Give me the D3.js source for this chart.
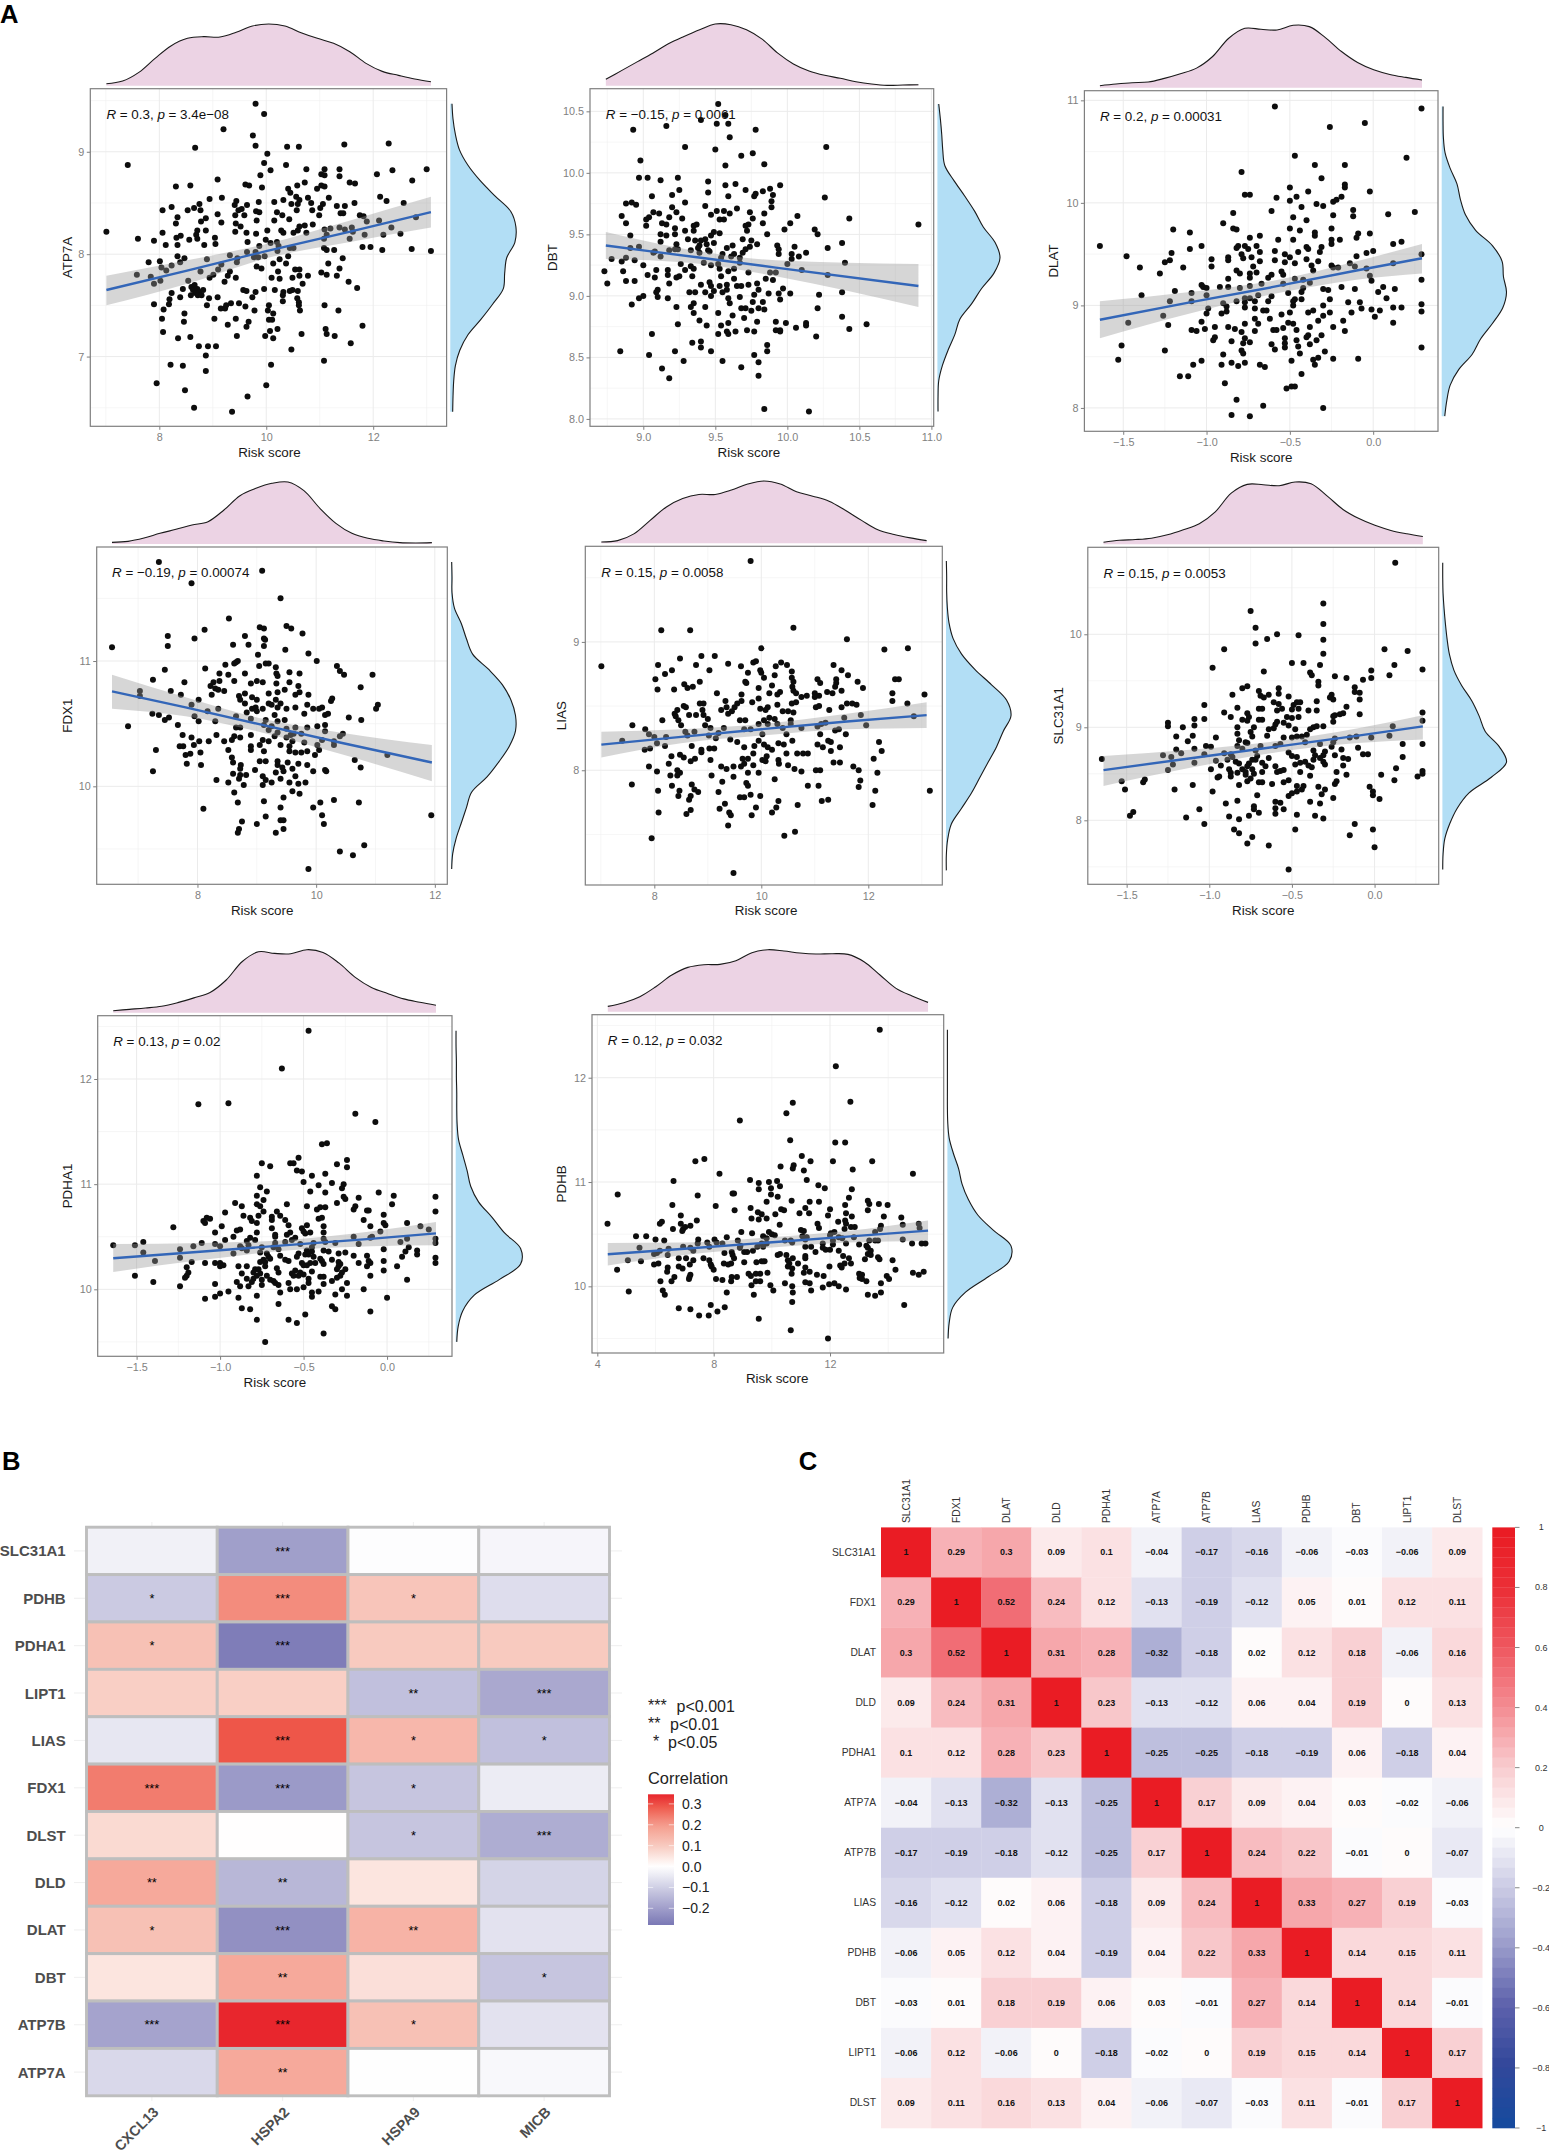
<!DOCTYPE html>
<html>
<head>
<meta charset="utf-8">
<script src="https://cdn.jsdelivr.net/npm/d3@7"></script>
<style>
body { margin: 0; background: #fff; }
text { font-family: "Liberation Sans", Arial, sans-serif; }
</style>
</head>
<body>
<div id="chart"></div>
<script>
// panel A, [risk score, expression]
var atp7aPts = [[9.8,9.47],[9.96,9.37],[9.2,9.22],[9.75,9.16],[8.67,9.04],[9.8,9.06],[10.39,9.05],[10.61,9.05],[11.46,9.07],[12.29,9.08],[7.41,8.87],[10.02,8.98],[9.96,8.89],[10.37,8.87],[10.08,8.82],[10.75,8.83],[11.09,8.83],[11.37,8.83],[12.36,8.82],[13,8.83],[9.89,8.77],[11.03,8.78],[11.09,8.77],[11.37,8.76],[12.07,8.78],[9.09,8.73],[12.73,8.72],[8.31,8.66],[8.58,8.67],[9.61,8.68],[9.68,8.67],[9.92,8.65],[10.58,8.67],[10.72,8.7],[10.95,8.64],[11.03,8.67],[11.09,8.66],[11.56,8.7],[11.66,8.69],[10.41,8.64],[10.45,8.6],[12.13,8.56],[8.94,8.54],[9.17,8.55],[10.32,8.53],[10.56,8.56],[10.62,8.53],[10.78,8.55],[11.17,8.55],[12.25,8.52],[12.57,8.5],[8.75,8.49],[9.41,8.48],[9.44,8.52],[9.64,8.48],[9.86,8.51],[10.15,8.51],[10.47,8.49],[10.59,8.49],[10.84,8.5],[11.06,8.49],[11.65,8.5],[11.32,8.47],[11.47,8.47],[8.06,8.43],[8.23,8.46],[8.53,8.43],[8.65,8.45],[8.77,8.43],[9.48,8.43],[9.54,8.44],[9.81,8.42],[9.87,8.41],[10.2,8.41],[10.57,8.43],[10.86,8.43],[11.01,8.45],[11.39,8.4],[11.44,8.4],[9.09,8.39],[9.42,8.38],[9.59,8.38],[10.3,8.38],[10.99,8.38],[11.75,8.38],[11.82,8.37],[8.34,8.36],[8.87,8.35],[9.16,8.31],[8.78,8.32],[8.31,8.3],[9.82,8.33],[10.15,8.33],[10.43,8.34],[9.43,8.3],[11.88,8.32],[12.11,8.33],[12.8,8.36],[9.52,8.27],[10.62,8.27],[10.72,8.28],[10.87,8.29],[10.59,8.23],[11.37,8.26],[11.2,8.25],[11.6,8.26],[12.34,8.26],[11.47,8.24],[8.71,8.23],[8.69,8.19],[8.87,8.23],[8.06,8.21],[7.01,8.22],[9.63,8.21],[9.81,8.2],[10.02,8.23],[9.42,8.22],[10.28,8.23],[10.32,8.21],[10.51,8.21],[10.75,8.21],[11.09,8.24],[11.13,8.19],[11.08,8.15],[11.62,8.22],[11.84,8.19],[12.19,8.19],[12.51,8.2],[7.6,8.15],[8.32,8.16],[8.4,8.18],[9.04,8.16],[8.71,8.15],[7.9,8.13],[11.56,8.15],[9.65,8.12],[9.99,8.14],[10.08,8.11],[10.2,8.12],[8.56,8.14],[8.12,8.09],[8.34,8.09],[8.84,8.09],[9.05,8.1],[9.87,8.08],[10.23,8.08],[11.08,8.06],[11.13,8.04],[11.27,8.04],[11.8,8.07],[11.95,8.07],[12.17,8.04],[12.72,8.05],[13.08,8.03],[10.44,8.06],[10.51,8.06],[9.64,8.02],[9.8,8.02],[10.21,8.03],[8.34,7.98],[8.47,7.96],[9.32,7.99],[9.77,7.97],[9.85,7.97],[9.97,7.98],[8.89,7.95],[9.46,7.96],[7.8,7.92],[8.01,7.93],[8.39,7.92],[10.25,7.95],[10.41,7.98],[9.45,7.92],[9.16,7.9],[8.23,7.89],[10.13,7.91],[10.37,7.91],[11.16,7.91],[11.43,7.96],[8.04,7.87],[8.13,7.84],[9.1,7.85],[9.82,7.88],[9.91,7.86],[7.58,7.8],[7.84,7.78],[8.02,7.74],[7.9,7.71],[8.77,7.83],[10.22,7.83],[10.54,7.85],[10.62,7.85],[11.03,7.82],[11.13,7.8],[11.32,7.79],[11.37,7.86],[9.01,7.8],[8.94,7.77],[9.32,7.83],[9.28,7.79],[9.43,7.77],[10.1,7.77],[10.25,7.76],[10.49,7.77],[10.78,7.79],[10.62,7.79],[8.54,7.74],[9.22,7.73],[11.54,7.73],[10.68,7.71],[11.7,7.67],[8.6,7.68],[8.66,7.7],[8.63,7.65],[8.71,7.66],[8.75,7.63],[8.68,7.62],[8.82,7.65],[8.72,7.6],[8.79,7.6],[8.59,7.6],[8.44,7.66],[8.23,7.62],[8.39,7.58],[8.19,7.56],[8.18,7.51],[7.9,7.51],[8.08,7.46],[9.57,7.65],[9.63,7.64],[9.8,7.63],[9.96,7.66],[10.16,7.65],[10.32,7.63],[10.44,7.64],[10.49,7.65],[10.59,7.64],[8.93,7.57],[9.09,7.58],[9.74,7.58],[10.31,7.6],[10.31,7.54],[10.58,7.57],[10.61,7.53],[8.89,7.5],[9.15,7.47],[9.23,7.47],[9.34,7.52],[9.49,7.52],[9.61,7.49],[9.25,7.5],[10.05,7.5],[10.03,7.45],[9.78,7.45],[10.61,7.5],[10.63,7.45],[11.09,7.5],[11.35,7.45],[8.47,7.42],[10.13,7.42],[9.43,7.37],[9.03,7.37],[8.05,7.37],[10.05,7.36],[10.11,7.36],[8.46,7.34],[9.67,7.34],[9.28,7.31],[9.63,7.29],[11.8,7.3],[8.07,7.24],[10.07,7.25],[10.21,7.27],[11.11,7.27],[11.13,7.22],[10.66,7.22],[9.45,7.2],[9.98,7.2],[10.13,7.18],[11.28,7.2],[8.35,7.18],[8.58,7.19],[11.58,7.13],[8.74,7.1],[8.91,7.1],[9.06,7.1],[10.47,7.07],[8.87,7.01],[11.08,6.96],[8.21,6.92],[8.44,6.91],[10.09,6.92],[8.87,6.86],[7.95,6.74],[10,6.72],[8.48,6.67],[9.65,6.61],[8.65,6.5],[9.36,6.46]];
var dbtPts = [[9.52,10.56],[9.57,10.47],[9.4,10.43],[9.51,10.4],[9.59,10.4],[9.16,10.38],[8.93,10.35],[9.78,10.35],[9.6,10.29],[9.29,10.21],[9.5,10.19],[10.27,10.21],[9.68,10.14],[9.76,10.16],[8.98,10.1],[9.84,10.07],[9.57,10.06],[8.97,9.96],[9.03,9.96],[9.12,9.94],[9.24,9.96],[9.45,9.93],[9.95,9.9],[9.57,9.9],[9.64,9.91],[9.25,9.86],[9.71,9.86],[9.88,9.87],[9.83,9.85],[9.45,9.84],[9.78,9.83],[9.77,9.81],[9.06,9.81],[9.2,9.82],[9.59,9.81],[9.9,9.82],[10.26,9.8],[8.88,9.75],[8.92,9.76],[8.95,9.74],[9.29,9.76],[9.43,9.73],[9.89,9.77],[9.89,9.72],[9.2,9.72],[9.07,9.68],[9.11,9.67],[9.23,9.68],[9.51,9.69],[9.56,9.69],[9.65,9.71],[9.47,9.66],[9.6,9.67],[9.74,9.68],[9.84,9.67],[10.07,9.65],[10.43,9.63],[8.85,9.65],[9.04,9.64],[9.02,9.62],[9.18,9.64],[9.27,9.63],[9.53,9.62],[9.56,9.62],[9.76,9.63],[8.88,9.59],[9.02,9.57],[9.13,9.59],[9.16,9.58],[9.37,9.58],[9.35,9.57],[9.73,9.58],[9.71,9.57],[9.83,9.59],[10.02,9.59],[10.91,9.58],[9.22,9.55],[9.29,9.53],[9.35,9.53],[9.98,9.54],[10.19,9.54],[9.72,9.53],[9.22,9.5],[9.12,9.5],[9.16,9.49],[8.91,9.49],[9.49,9.52],[9.53,9.51],[9.47,9.49],[9.86,9.5],[10.21,9.5],[9.31,9.46],[9.36,9.45],[9.4,9.45],[9.43,9.46],[9.69,9.46],[9.75,9.45],[9.12,9.44],[9.49,9.43],[10.38,9.43],[9.23,9.42],[9.39,9.41],[9.44,9.42],[9.62,9.41],[9.79,9.42],[9.74,9.4],[9.93,9.41],[10.05,9.4],[10.28,9.39],[8.97,9.4],[8.91,9.39],[9.22,9.38],[9.24,9.38],[9.33,9.37],[9.38,9.39],[9.45,9.37],[9.58,9.39],[9.71,9.38],[9.94,9.38],[9.08,9.36],[9.07,9.35],[9.18,9.37],[9.39,9.35],[9.46,9.36],[9.55,9.34],[9.63,9.34],[9.69,9.35],[9.94,9.34],[10.13,9.35],[10.03,9.34],[9.12,9.32],[8.78,9.3],[8.88,9.31],[8.94,9.29],[9.54,9.31],[9.61,9.32],[9.67,9.31],[10.08,9.32],[10.03,9.3],[8.85,9.28],[9,9.25],[9.26,9.26],[9.42,9.27],[9.67,9.27],[9.47,9.25],[9.52,9.26],[10,9.26],[10.4,9.27],[8.73,9.2],[8.86,9.2],[9.09,9.21],[9.17,9.21],[9.29,9.21],[9.33,9.24],[9.35,9.22],[9.53,9.22],[9.59,9.2],[9.63,9.22],[9.88,9.19],[9.92,9.19],[9.73,9.19],[10.1,9.21],[10.28,9.17],[9.03,9.17],[9.17,9.17],[9.08,9.15],[9.25,9.16],[9.23,9.15],[9.34,9.16],[9.54,9.16],[9.63,9.14],[9.85,9.14],[9.9,9.13],[8.75,9.1],[8.88,9.12],[8.94,9.12],[9.18,9.1],[9.4,9.09],[9.46,9.11],[9.58,9.09],[9.65,9.08],[9.68,9.08],[9.73,9.09],[9.79,9.1],[9.1,9.05],[9.47,9.08],[9.53,9.08],[9.58,9.05],[9.8,9.05],[9.09,9.03],[9.32,9.03],[9.36,9.03],[9.43,9.03],[9.49,9.04],[9.55,9.03],[9.97,9.06],[9,9],[8.97,8.98],[9.1,8.99],[9.17,8.98],[9.67,8.99],[9.77,9.01],[9.47,9],[9.59,8.98],[9.87,9.02],[9.94,9.02],[10.02,9.02],[10.22,9.01],[10.38,9.03],[8.92,8.93],[9.23,8.91],[9.35,8.94],[9.33,8.91],[9.43,8.91],[9.6,8.94],[9.68,8.9],[9.71,8.9],[9.76,8.95],[9.75,8.88],[9.8,8.9],[9.83,8.95],[9.84,8.89],[9.95,8.97],[10.21,8.9],[9.35,8.86],[9.52,8.86],[9.62,8.84],[10.38,8.83],[9.39,8.8],[9.7,8.82],[9.79,8.79],[9.92,8.79],[9.99,8.78],[9.59,8.78],[10.13,8.78],[9.24,8.77],[9.44,8.76],[9.54,8.76],[10.13,8.76],[10.55,8.77],[9.92,8.72],[9.95,8.72],[10.06,8.74],[10.43,8.73],[9.58,8.71],[9.64,8.71],[9.72,8.72],[9.77,8.71],[9.95,8.71],[9.06,8.69],[9.52,8.69],[9.59,8.69],[10.2,8.67],[9.34,8.62],[9.4,8.63],[9.86,8.6],[9.4,8.58],[8.84,8.55],[9.22,8.55],[9.47,8.55],[9.86,8.55],[9.04,8.52],[9.77,8.52],[9.28,8.47],[9.55,8.47],[9.8,8.46],[9.13,8.41],[9.68,8.42],[9.8,8.35],[9.18,8.33],[9.84,8.08],[10.15,8.06]];
var dlatPts = [[-0.59,10.94],[0.29,10.92],[-0.26,10.74],[-0.05,10.78],[-0.47,10.46],[0.2,10.44],[-0.35,10.37],[-0.17,10.37],[-0.79,10.3],[-0.31,10.24],[-0.5,10.15],[-0.17,10.18],[-0.17,10.15],[-0.39,10.11],[-0.02,10.11],[-0.77,10.08],[-0.74,10.08],[-0.58,10.05],[-0.46,10.06],[-0.5,10.02],[-0.19,10.06],[-0.24,10.01],[-0.22,10.03],[-0.34,9.99],[-0.43,9.96],[-0.3,9.97],[-0.84,9.9],[-0.61,9.92],[-0.12,9.93],[0.09,9.89],[0.25,9.91],[-0.24,9.88],[-0.12,9.87],[-0.48,9.86],[-0.4,9.83],[-0.9,9.8],[-0.84,9.75],[-0.82,9.74],[-0.5,9.75],[-0.44,9.73],[-0.25,9.75],[-1.2,9.74],[-1.1,9.71],[-0.35,9.71],[-0.35,9.68],[-0.09,9.7],[-0.1,9.66],[-0.02,9.7],[-0.68,9.68],[-0.74,9.66],[-0.57,9.64],[-0.48,9.64],[-0.25,9.64],[-0.2,9.64],[-0.25,9.6],[0.12,9.6],[0.17,9.62],[-1.03,9.58],[-1.64,9.58],[-1.1,9.55],[-1.21,9.51],[-0.81,9.58],[-0.77,9.58],[-0.82,9.56],[-0.7,9.58],[-0.75,9.55],[-0.4,9.57],[-0.59,9.53],[-0.39,9.55],[-0.31,9.57],[-0.45,9.52],[-0.68,9.52],[-0.04,9.51],[0,9.53],[-0.32,9.52],[0.29,9.5],[-0.79,9.5],[-0.53,9.5],[-0.1,9.48],[-1.48,9.48],[-0.87,9.47],[-0.73,9.47],[-0.5,9.47],[-0.97,9.45],[-1.22,9.44],[-0.87,9.44],[-0.78,9.46],[-0.4,9.45],[-0.59,9.44],[-0.33,9.43],[-1.25,9.42],[-0.68,9.43],[-0.53,9.42],[-0.47,9.41],[0.12,9.41],[-0.14,9.41],[-0.37,9.39],[-0.25,9.39],[-1.4,9.37],[-1.14,9.37],[-0.97,9.38],[-0.72,9.38],[-0.11,9.38],[-0.24,9.37],[-0.21,9.37],[-0.04,9.36],[-0.82,9.34],[-0.36,9.34],[-0.55,9.33],[-1.28,9.31],[-0.8,9.31],[-0.74,9.31],[-0.7,9.32],[-0.54,9.3],[-0.63,9.27],[-0.61,9.3],[-0.74,9.27],[-0.02,9.29],[-0.87,9.26],[-0.47,9.26],[-0.42,9.25],[-0.01,9.24],[0.29,9.25],[-0.67,9.21],[-0.38,9.22],[-1.03,9.2],[-0.54,9.21],[-0.74,9.19],[-1.02,9.18],[-1,9.17],[-0.92,9.18],[-0.87,9.18],[-0.8,9.17],[-0.19,9.18],[0.06,9.18],[-0.42,9.17],[-1.19,9.14],[-0.3,9.16],[-0.27,9.15],[-0.11,9.16],[0.13,9.16],[0.03,9.13],[-0.43,9.13],[-1.09,9.12],[-0.51,9.12],[-1.39,9.1],[-1,9.1],[-0.69,9.1],[-0.61,9.09],[0.08,9.07],[-0.77,9.07],[-0.74,9.07],[-0.47,9.06],[-0.43,9.06],[-0.26,9.06],[-1.22,9.04],[-1.09,9.04],[-0.82,9.04],[-0.71,9.04],[-0.63,9.04],[-0.77,9.03],[-0.48,9.04],[-0.15,9.03],[-0.08,9.03],[0.29,9.01],[-0.9,9.02],[-0.3,9],[-0.77,8.98],[-0.88,8.99],[0.12,8.98],[0.17,8.98],[-0.71,8.97],[-0.99,8.97],[-0.48,9],[-0.07,8.97],[-0.01,8.96],[-0.66,8.95],[-0.64,8.95],[-0.88,8.94],[-0.91,8.92],[-1,8.92],[-0.39,8.93],[-0.36,8.95],[-0.26,8.93],[-0.13,8.93],[0.04,8.95],[0.29,8.94],[-0.5,8.93],[-0.55,8.91],[-1.26,8.9],[0.01,8.89],[-0.3,8.9],[-0.62,8.87],[-0.71,8.87],[-0.33,8.85],[-0.18,8.85],[-1.03,8.84],[-0.51,8.83],[-0.77,8.82],[-0.69,8.82],[-0.48,8.82],[-1.47,8.83],[-1.23,8.81],[0.12,8.83],[-0.95,8.79],[-0.87,8.79],[-0.38,8.79],[-0.24,8.79],[-0.83,8.77],[-0.54,8.78],[-0.6,8.76],[-0.58,8.76],[-1.09,8.76],[-1.06,8.75],[-1.01,8.77],[-0.46,8.76],[-0.71,8.75],[-0.79,8.74],[-0.17,8.75],[-0.39,8.71],[-0.4,8.69],[-0.31,8.71],[-0.77,8.68],[-0.95,8.69],[-0.96,8.66],[-0.34,8.66],[-0.46,8.66],[-0.53,8.68],[-1.51,8.61],[-0.85,8.65],[-0.78,8.63],[-0.74,8.64],[-0.61,8.62],[-0.53,8.63],[-0.38,8.62],[-0.53,8.59],[-0.45,8.6],[0.29,8.59],[-0.59,8.57],[-0.79,8.56],[-1.25,8.56],[-0.78,8.53],[-0.9,8.52],[-0.44,8.53],[-0.29,8.55],[-1.53,8.47],[-0.33,8.49],[-0.24,8.48],[-0.09,8.48],[-0.49,8.46],[-1.03,8.46],[-0.36,8.47],[-1.08,8.42],[-0.91,8.42],[-0.85,8.44],[-0.81,8.41],[-0.77,8.44],[-0.68,8.42],[-0.65,8.4],[-0.35,8.42],[-0.43,8.33],[-1.16,8.31],[-1.11,8.31],[-0.89,8.24],[-0.52,8.19],[-0.49,8.21],[-0.47,8.21],[-0.82,8.08],[-0.66,8.02],[-0.3,8],[-0.85,7.93],[-0.74,7.92]];
var fdx1Pts = [[7.35,11.79],[9.09,11.72],[7.9,11.62],[9.4,11.5],[8.53,11.34],[9.05,11.27],[9.12,11.26],[9.5,11.28],[9.58,11.26],[8.12,11.25],[9.77,11.22],[7.5,11.2],[8.8,11.2],[7.95,11.18],[9.12,11.18],[9.14,11.17],[6.56,11.11],[7.5,11.12],[8.6,11.13],[8.86,11.13],[9.12,11.12],[9.48,11.09],[9.02,11.05],[9.87,11.06],[8.68,11],[8.65,10.99],[8.62,10.98],[8.47,10.97],[9.15,10.98],[9.2,10.98],[10.01,11],[9.04,10.96],[10.35,10.96],[9.32,10.95],[7.45,10.93],[8.13,10.94],[8.37,10.9],[8.52,10.89],[8.8,10.9],[9.33,10.9],[9.35,10.88],[9.55,10.91],[9.72,10.9],[10.4,10.92],[10.47,10.89],[10.95,10.89],[7.25,10.85],[8.22,10.8],[8.27,10.83],[8.37,10.84],[8.62,10.84],[8.9,10.82],[9,10.84],[9.1,10.83],[9.33,10.82],[9.55,10.83],[9.7,10.8],[7.78,10.83],[8.3,10.78],[8.35,10.77],[8.45,10.76],[10.75,10.79],[7.55,10.76],[7.72,10.73],[7.03,10.76],[7.03,10.72],[8.24,10.73],[8.7,10.72],[8.8,10.74],[9.2,10.74],[9.35,10.75],[9.47,10.77],[9.65,10.73],[9.72,10.75],[9.87,10.73],[9.32,10.69],[9,10.69],[8.92,10.71],[8.72,10.69],[8.02,10.69],[10.25,10.68],[10.27,10.7],[8.8,10.66],[9.2,10.66],[9.25,10.65],[9.4,10.66],[9.85,10.65],[9.95,10.62],[11.04,10.65],[11.01,10.62],[7.9,10.65],[8.17,10.6],[8.35,10.62],[8.92,10.62],[8.98,10.63],[9.1,10.62],[9.35,10.63],[9.5,10.62],[9.65,10.63],[10.05,10.62],[10.1,10.63],[10.15,10.57],[10.2,10.58],[7.24,10.58],[7.35,10.57],[8.83,10.59],[9,10.6],[9.3,10.57],[9.8,10.58],[7.45,10.53],[7.52,10.55],[7.95,10.56],[8.02,10.52],[8.3,10.52],[8.65,10.56],[8.9,10.54],[9.35,10.52],[9.47,10.53],[9.15,10.53],[10.55,10.55],[10.76,10.53],[6.83,10.48],[7.67,10.49],[9.12,10.49],[9.25,10.48],[9.5,10.46],[9.65,10.47],[9.85,10.47],[10.02,10.48],[10.15,10.49],[8.65,10.47],[8.72,10.47],[9.2,10.45],[9.35,10.43],[9.62,10.42],[9.75,10.42],[10.15,10.44],[7.75,10.41],[8.32,10.41],[7.9,10.39],[8.62,10.4],[8.72,10.39],[8.9,10.41],[9.1,10.37],[9.3,10.4],[9.5,10.39],[9.57,10.41],[10.45,10.42],[10.4,10.4],[8.03,10.36],[8.19,10.36],[8.45,10.36],[8.58,10.37],[9.2,10.36],[9.6,10.36],[9.8,10.35],[10.1,10.37],[10.3,10.36],[7.94,10.33],[7.7,10.32],[7.76,10.32],[8.9,10.32],[9.05,10.33],[9.4,10.33],[9.55,10.32],[10.02,10.33],[10.3,10.33],[7.3,10.29],[8.52,10.29],[8.05,10.27],[8.9,10.29],[9.12,10.28],[9.55,10.28],[9.65,10.27],[9.75,10.27],[9.85,10.28],[10.05,10.29],[7.88,10.26],[7.8,10.25],[9.98,10.25],[8.58,10.23],[8.6,10.19],[11.2,10.25],[9.35,10.2],[9.52,10.19],[9.7,10.18],[8.73,10.17],[9.05,10.2],[9.15,10.2],[10.65,10.21],[7.82,10.18],[8.06,10.17],[8.72,10.14],[9.35,10.17],[9.43,10.15],[9.6,10.14],[9.85,10.17],[10.75,10.15],[7.25,10.12],[8.97,10.13],[9.32,10.11],[9.45,10.12],[9.95,10.12],[10.15,10.13],[10.17,10.12],[8.6,10.1],[8.72,10.09],[8.82,10.09],[9.1,10.08],[9.65,10.08],[8.7,10.06],[9.4,10.06],[9.15,10.05],[8.32,10.05],[8.52,10.03],[8.78,10.01],[9.25,10.03],[9.55,10.03],[9.7,10.02],[9.82,10.03],[9.1,10.01],[8.62,9.95],[9.6,9.96],[9.72,9.94],[9.45,9.91],[9.12,9.88],[8.68,9.87],[10.07,9.87],[10.3,9.89],[10.72,9.87],[8.1,9.82],[9.95,9.83],[9.4,9.83],[9.15,9.76],[9.4,9.73],[9.45,9.73],[10.1,9.77],[8.75,9.72],[9,9.7],[10.13,9.7],[8.7,9.66],[9.45,9.66],[8.68,9.63],[9.32,9.63],[11.94,9.77],[10.4,9.48],[10.62,9.45],[10.81,9.53],[9.87,9.34]];
var liasPts = [[9.8,9.63],[10.6,9.11],[8.13,9.09],[8.67,9.09],[11.6,9.02],[12.74,8.95],[12.3,8.94],[10,8.95],[8.88,8.89],[9.13,8.89],[8.48,8.87],[7.01,8.81],[8.07,8.82],[8.78,8.82],[9.38,8.83],[9.62,8.81],[9.85,8.84],[9.9,8.85],[10.37,8.84],[10.48,8.82],[10.27,8.81],[11.35,8.82],[11.5,8.78],[8.33,8.78],[8.2,8.75],[9.03,8.78],[9.75,8.76],[9.98,8.78],[10,8.76],[10.57,8.77],[10.25,8.74],[11.62,8.74],[10.05,8.72],[10.57,8.72],[11.05,8.71],[11.4,8.71],[12.5,8.71],[12.57,8.71],[8.02,8.71],[8.85,8.69],[9.7,8.69],[9.72,8.68],[10.2,8.66],[10.6,8.69],[11.1,8.68],[11.4,8.68],[11.8,8.69],[8.56,8.67],[8.62,8.64],[8.72,8.65],[9.95,8.64],[10.35,8.61],[10.58,8.65],[10.6,8.62],[11.38,8.65],[11.9,8.64],[8.06,8.63],[8.37,8.63],[9.17,8.6],[9.63,8.59],[10.15,8.6],[10.3,8.59],[10.65,8.6],[11,8.6],[11.23,8.61],[11.33,8.6],[11.5,8.62],[12.45,8.6],[10.75,8.57],[10.85,8.58],[11,8.57],[11.08,8.58],[13.05,8.59],[9.95,8.56],[9.33,8.54],[9.55,8.52],[9.63,8.54],[9.83,8.53],[8.85,8.52],[8.92,8.52],[10.57,8.52],[10.65,8.53],[11.6,8.52],[11.7,8.52],[11.78,8.51],[12.45,8.54],[12.73,8.52],[8.55,8.5],[8.59,8.49],[9.35,8.49],[9.5,8.49],[9.98,8.48],[10.12,8.49],[10.3,8.51],[11.08,8.5],[11.02,8.49],[11.5,8.49],[8.9,8.47],[9.25,8.47],[9.45,8.46],[10.08,8.47],[10.4,8.46],[10.5,8.46],[11.27,8.47],[8.43,8.47],[8.38,8.44],[8.4,8.42],[8.65,8.43],[8.78,8.43],[8.92,8.43],[9.38,8.44],[10.6,8.45],[11.86,8.43],[12.85,8.42],[8.15,8.39],[8.45,8.39],[9,8.4],[9.6,8.39],[9.7,8.39],[10.05,8.39],[10.25,8.4],[10.15,8.41],[10.55,8.39],[11.55,8.41],[7.59,8.35],[8.5,8.35],[8.95,8.35],[9.95,8.36],[10.12,8.36],[10.3,8.36],[10.55,8.36],[11.12,8.36],[11.2,8.37],[11.96,8.35],[7.83,8.32],[9.05,8.33],[9.3,8.33],[9.8,8.32],[10.4,8.33],[10.75,8.33],[11.05,8.34],[11.38,8.31],[11.45,8.32],[9.68,8.32],[7.9,8.28],[8.58,8.3],[8.75,8.3],[9.2,8.29],[9.02,8.27],[10.02,8.28],[10.47,8.28],[11.1,8.28],[11.58,8.28],[8,8.26],[8.22,8.26],[8.62,8.27],[9.15,8.25],[9.42,8.24],[9.55,8.22],[10.58,8.23],[11.25,8.23],[11.3,8.22],[7.4,8.23],[8.05,8.21],[9.95,8.23],[10.05,8.2],[10.32,8.21],[10.42,8.2],[11.05,8.2],[12.2,8.22],[8.2,8.19],[8.7,8.19],[9.68,8.18],[9.87,8.19],[10.12,8.18],[10.2,8.16],[11.15,8.18],[11.47,8.18],[7.82,8.16],[7.92,8.17],[8.88,8.16],[9.03,8.17],[9.12,8.17],[8.88,8.14],[9.85,8.13],[10.47,8.13],[10.67,8.13],[10.78,8.13],[10.87,8.13],[11.3,8.15],[12.25,8.15],[8.32,8.11],[8.48,8.12],[8.55,8.1],[8.76,8.09],[9.65,8.09],[9.75,8.09],[10.1,8.11],[10.32,8.08],[10.02,8.08],[12.1,8.09],[8.68,8.07],[9.05,8.08],[8.27,8.05],[9.68,8.05],[10.08,8.07],[10.33,8.05],[11.35,8.06],[11.47,8.06],[7.9,8.03],[9.25,8.03],[9.48,8.03],[9.62,8.03],[9.85,8.04],[10.5,8.04],[10.62,8.01],[11.72,8.03],[8.43,8],[9.35,8.01],[8.05,7.99],[8.48,7.98],[9.75,7.98],[9.95,7.98],[10.75,7.99],[11.02,8],[11.1,8],[11.82,8],[12.17,7.98],[8.43,7.96],[8.3,7.96],[9.07,7.96],[9.48,7.95],[10.25,7.93],[7.58,7.89],[8.7,7.89],[9.27,7.91],[9.72,7.9],[9.75,7.88],[10.87,7.88],[11.07,7.88],[11.85,7.92],[8.33,7.88],[8.47,7.84],[8.75,7.85],[8.82,7.83],[8.07,7.84],[9.2,7.83],[11.82,7.87],[12.13,7.84],[13.15,7.84],[8.45,7.8],[8.68,7.8],[9.6,7.79],[9.68,7.79],[9.8,7.81],[9.98,7.8],[8.65,7.77],[10.32,7.76],[11.13,7.76],[11.25,7.77],[9.32,7.74],[8.08,7.67],[8.68,7.69],[9.22,7.7],[9.9,7.71],[10.28,7.71],[10.68,7.73],[12.08,7.73],[8.6,7.66],[9.4,7.67],[9.43,7.65],[9.82,7.65],[10.2,7.67],[9.38,7.57],[10.63,7.52],[10.43,7.49],[7.95,7.47],[9.48,7.2]];
var slc31a1Pts = [[0.125,10.77],[-0.31,10.33],[-0.75,10.25],[-0.31,10.11],[-0.72,10.07],[-0.59,10],[-0.46,9.99],[-0.65,9.95],[-0.31,9.94],[-0.72,9.9],[-0.91,9.84],[0.06,9.84],[0.2,9.82],[-0.31,9.79],[-0.5,9.69],[-0.43,9.69],[-0.33,9.67],[0.12,9.67],[-0.98,9.64],[0.29,9.62],[-0.67,9.6],[-0.39,9.59],[-0.38,9.56],[-0.24,9.55],[-0.02,9.61],[0.09,9.56],[-0.02,9.53],[-0.17,9.53],[-0.07,9.51],[-0.34,9.49],[-0.34,9.45],[-0.77,9.44],[-0.8,9.42],[-0.58,9.42],[-0.12,9.43],[-0.7,9.39],[-0.12,9.38],[-0.09,9.37],[-0.86,9.35],[-0.64,9.35],[-0.69,9.34],[-0.67,9.32],[-0.58,9.36],[-0.26,9.35],[-0.27,9.32],[-0.52,9.33],[-0.25,9.3],[-0.09,9.3],[-0.61,9.27],[-0.35,9.28],[-0.47,9.27],[-0.45,9.27],[-0.49,9.24],[-0.58,9.25],[-1.03,9.24],[-0.83,9.21],[-0.17,9.22],[-0.46,9.2],[-0.7,9.2],[-0.68,9.2],[-0.59,9.18],[-0.56,9.2],[-0.5,9.19],[-0.4,9.18],[-0.35,9.18],[-0.91,9.16],[-0.87,9.11],[-0.77,9.15],[-0.76,9.11],[-0.24,9.13],[-0.21,9.14],[-0.25,9.12],[-0.19,9.15],[-0.09,9.14],[0.29,9.16],[-0.46,9.11],[-1.09,9.09],[-1.03,9.09],[-0.8,9.08],[-0.77,9.07],[-0.7,9.08],[-0.68,9.08],[-0.53,9.11],[-0.5,9.1],[-0.59,9.06],[-0.55,9.05],[-0.25,9.06],[0.29,9.07],[-1.25,9.05],[-1.25,9.01],[-1.16,9],[-1.09,9.02],[-0.83,9],[-0.73,9],[-0.6,9.03],[-0.61,8.99],[-0.52,9.02],[-0.64,8.98],[-0.48,8.98],[-0.37,9],[-0.35,9.01],[-0.39,8.98],[-0.31,9.01],[0.11,9.01],[-0.83,8.93],[-0.75,8.95],[-0.74,8.9],[-0.65,8.91],[-0.5,8.89],[-0.47,8.9],[-0.44,8.9],[-0.41,8.92],[-1.2,8.9],[-1.1,8.91],[-0.96,8.89],[-0.11,8.9],[-0.15,8.89],[0.09,8.91],[-0.02,8.89],[-1.13,8.85],[-0.82,8.86],[-0.78,8.84],[-0.55,8.89],[-0.24,8.88],[-0.25,8.84],[-1.02,8.8],[-0.99,8.79],[-0.83,8.8],[-0.77,8.83],[-0.69,8.8],[-0.6,8.8],[-0.57,8.82],[-0.42,8.84],[-0.33,8.82],[-0.26,8.79],[0.29,8.82],[0.17,8.82],[-1.09,8.77],[-1.2,8.76],[-0.8,8.77],[-0.72,8.75],[-0.37,8.75],[-0.2,8.76],[-0.1,8.78],[-1.17,8.72],[-1.03,8.71],[-0.91,8.72],[-0.87,8.71],[-0.71,8.69],[-0.52,8.73],[-0.3,8.74],[-0.31,8.7],[-0.24,8.7],[-0.07,8.71],[-0.04,8.71],[-1.28,8.7],[-1.23,8.68],[-0.86,8.68],[-0.5,8.69],[-0.47,8.68],[-0.36,8.7],[-0.64,8.67],[-0.19,8.67],[-0.16,8.66],[-1.65,8.66],[-0.96,8.64],[-0.89,8.65],[-0.84,8.63],[-0.74,8.65],[-0.72,8.65],[-0.37,8.65],[-0.33,8.67],[0.17,8.68],[-1.09,8.62],[-1.22,8.6],[-0.82,8.61],[-0.76,8.61],[-0.68,8.62],[-0.45,8.62],[-0.42,8.63],[-0.4,8.59],[-0.31,8.63],[-0.3,8.6],[-0.19,8.59],[-0.93,8.59],[-0.77,8.58],[-0.66,8.58],[-0.6,8.58],[-0.48,8.6],[-0.38,8.57],[0.13,8.56],[-1.25,8.54],[-0.99,8.55],[-0.88,8.55],[-0.8,8.55],[-0.74,8.55],[-0.57,8.53],[-0.55,8.54],[-0.45,8.52],[-0.87,8.51],[-0.83,8.51],[-0.78,8.52],[-0.73,8.5],[-0.68,8.52],[-0.59,8.52],[-0.23,8.52],[-0.17,8.49],[0.04,8.49],[0.29,8.53],[0.29,8.5],[-0.95,8.46],[-0.94,8.47],[-0.87,8.47],[-0.78,8.49],[-0.75,8.45],[-0.39,8.48],[0.26,8.47],[-1.53,8.42],[-1.39,8.44],[-1.4,8.41],[-0.77,8.42],[-0.7,8.41],[-0.68,8.41],[-0.62,8.39],[-0.55,8.41],[-0.52,8.43],[-0.23,8.42],[-0.24,8.39],[0.12,8.43],[-1.1,8.38],[-0.82,8.38],[-0.47,8.37],[-0.43,8.37],[-0.34,8.36],[-0.03,8.36],[-1.51,8.33],[-1.21,8.33],[-0.98,8.31],[-0.47,8.31],[-0.44,8.33],[-0.3,8.33],[-0.01,8.31],[-0.71,8.27],[-0.52,8.26],[-0.5,8.29],[-0.32,8.28],[-0.01,8.27],[-0.25,8.24],[0.03,8.23],[-0.83,8.21],[-0.6,8.2],[-0.57,8.19],[-0.39,8.2],[-0.9,8.18],[-0.33,8.18],[-1.06,8.12],[-0.73,8.15],[-0.73,8.12],[-0.6,8.13],[-0.55,8.12],[-1.46,8.09],[-1.48,8.05],[-0.7,8.08],[-0.6,8.07],[-0.47,8.06],[-1.14,8.03],[-0.88,8.04],[-0.76,8.05],[-0.36,8.05],[-0.31,8.02],[-0.82,8.01],[-1.03,7.96],[-0.12,7.96],[-0.85,7.9],[-0.82,7.86],[-0.48,7.9],[-0.01,7.9],[-0.15,7.84],[-0.74,7.82],[-0.77,7.75],[-0.64,7.73],[0,7.71],[-0.52,7.47]];
var pdha1Pts = [[-0.47,12.46],[-0.63,12.1],[-1.13,11.76],[-0.95,11.77],[-0.19,11.67],[-0.07,11.59],[-0.39,11.38],[-0.36,11.39],[-0.53,11.25],[-0.58,11.2],[-0.56,11.2],[-0.75,11.2],[-0.7,11.17],[-0.3,11.19],[-0.24,11.23],[-0.24,11.16],[-0.54,11.13],[-0.51,11.12],[-0.37,11.1],[-0.78,11.08],[-0.45,11.08],[-0.5,11.02],[-0.33,11.01],[-0.26,11],[-0.76,10.97],[-0.41,10.99],[-0.27,10.96],[-0.72,10.93],[-0.46,10.93],[-0.37,10.92],[-0.05,10.92],[-0.78,10.89],[0.04,10.89],[0.29,10.88],[-0.26,10.88],[-0.25,10.86],[-0.17,10.87],[-0.74,10.85],[-0.91,10.82],[-0.78,10.81],[-0.6,10.81],[-0.3,10.82],[0.03,10.81],[-0.87,10.79],[-0.76,10.79],[-0.48,10.79],[-0.42,10.76],[-0.4,10.78],[-0.37,10.78],[-0.19,10.79],[-0.2,10.76],[-0.12,10.75],[-0.11,10.75],[-0.97,10.73],[-0.74,10.74],[-0.66,10.74],[-0.86,10.7],[-0.82,10.68],[-0.77,10.7],[-0.69,10.69],[-0.64,10.7],[-0.39,10.68],[-0.41,10.67],[-0.02,10.71],[0.29,10.74],[-1.08,10.68],[-1.1,10.65],[-1.09,10.63],[-1.06,10.67],[-0.81,10.65],[-0.78,10.63],[-0.69,10.66],[-0.61,10.66],[-0.14,10.66],[-0.02,10.63],[0.12,10.63],[-1.28,10.59],[-0.99,10.6],[-0.59,10.61],[-0.48,10.61],[-0.38,10.6],[-0.1,10.6],[-0.01,10.61],[0.2,10.6],[-0.9,10.56],[-0.88,10.57],[-0.78,10.54],[-0.69,10.58],[-0.51,10.58],[-0.5,10.55],[-1.03,10.54],[-0.67,10.52],[-0.6,10.52],[-0.58,10.54],[-0.49,10.53],[-0.46,10.54],[-0.38,10.54],[-0.04,10.55],[0.25,10.57],[-0.92,10.5],[-0.67,10.5],[-0.82,10.49],[-0.79,10.47],[-0.55,10.49],[-0.2,10.5],[-0.09,10.5],[-0.97,10.47],[-0.84,10.46],[-0.57,10.47],[-0.38,10.48],[-0.1,10.49],[0.12,10.48],[0.29,10.48],[-1.46,10.45],[-1.11,10.44],[-1.03,10.43],[-0.83,10.42],[-0.67,10.44],[-0.61,10.45],[-0.52,10.43],[-0.44,10.44],[-0.37,10.45],[-0.31,10.44],[-0.17,10.43],[0.08,10.45],[0.29,10.44],[-1.64,10.42],[-1.51,10.42],[-1.16,10.41],[-1,10.41],[-0.88,10.41],[-0.75,10.4],[-0.68,10.4],[-0.65,10.38],[-0.45,10.4],[0.13,10.4],[-1.24,10.38],[-0.87,10.39],[-0.84,10.37],[-0.48,10.37],[-0.45,10.36],[-0.38,10.37],[-0.35,10.36],[-0.02,10.38],[0.18,10.37],[0.11,10.36],[-1.46,10.35],[-0.76,10.35],[-0.72,10.34],[-0.53,10.34],[-0.49,10.33],[-0.47,10.33],[-0.25,10.35],[0.18,10.33],[-0.92,10.34],[-0.29,10.34],[-0.71,10.31],[-0.64,10.32],[-0.54,10.31],[-0.44,10.31],[-0.2,10.32],[-0.12,10.32],[0.09,10.31],[-1.24,10.3],[-0.74,10.28],[-0.7,10.29],[-0.61,10.28],[-0.59,10.27],[-0.4,10.29],[-0.39,10.27],[-0.33,10.28],[-0.29,10.26],[0.29,10.3],[-1.39,10.27],[-1.17,10.26],[-1.09,10.25],[-1.03,10.25],[-0.76,10.26],[-0.73,10.26],[-0.51,10.25],[-0.46,10.25],[-0.43,10.25],[-0.38,10.24],[-0.28,10.24],[-0.17,10.25],[-0.02,10.27],[-0.11,10.27],[-0.1,10.25],[0.29,10.25],[-1,10.25],[-1,10.22],[-0.98,10.23],[-0.89,10.22],[-0.84,10.22],[-0.73,10.22],[-0.66,10.2],[-0.5,10.23],[-0.48,10.23],[-0.29,10.22],[-0.25,10.19],[-0.12,10.22],[0.06,10.22],[-1.2,10.21],[-0.79,10.19],[-0.77,10.19],[-0.55,10.18],[-0.45,10.17],[-0.3,10.19],[-0.02,10.18],[-1.19,10.16],[-1.2,10.13],[-0.8,10.16],[-0.76,10.15],[-0.65,10.16],[-0.57,10.15],[-0.52,10.16],[-0.5,10.14],[-0.27,10.16],[-0.87,10.15],[-1.51,10.13],[-1.21,10.11],[-0.78,10.13],[-0.72,10.13],[-0.56,10.13],[-0.53,10.13],[-0.4,10.12],[-0.38,10.12],[-0.28,10.13],[-0.1,10.13],[-0.84,10.1],[-0.8,10.1],[-0.75,10.09],[-0.7,10.09],[-0.68,10.08],[-0.47,10.1],[-0.3,10.11],[-1.4,10.07],[-0.9,10.07],[-0.81,10.07],[-0.67,10.06],[-0.59,10.06],[-0.47,10.06],[-0.33,10.08],[-0.24,10.06],[0.12,10.09],[-1.24,10.03],[-1.03,10.05],[-0.88,10.03],[-0.83,10.03],[-0.75,10.04],[-0.65,10.04],[-0.5,10.02],[-0.38,10.05],[-0.58,10],[-0.54,10],[-0.27,10],[-0.14,10],[-0.95,9.98],[-0.41,9.98],[-0.64,9.97],[-1,9.96],[-0.78,9.94],[-0.45,9.97],[-0.31,9.95],[-0.24,9.94],[-1.09,9.91],[-1.03,9.93],[-0.89,9.92],[-0.45,9.93],[0,9.92],[-0.65,9.86],[-0.33,9.84],[-0.31,9.81],[-0.87,9.82],[-0.82,9.81],[-0.1,9.79],[-0.49,9.76],[-0.78,9.71],[-0.59,9.71],[-0.54,9.68],[-0.38,9.58],[-0.73,9.5]];
var pdhbPts = [[13.71,12.46],[12.2,12.11],[12.7,11.77],[10.72,11.76],[10.5,11.66],[8.9,11.59],[10.63,11.4],[12.18,11.38],[12.52,11.38],[11.03,11.25],[7.37,11.2],[7.68,11.22],[11.33,11.2],[12.1,11.2],[13.45,11.2],[10.3,11.15],[10.75,11.16],[10.72,11.13],[11.1,11.11],[12.78,11.12],[8.2,11.08],[14.85,11.08],[9.25,11.02],[6.62,11.01],[9.55,10.99],[9.9,11],[10.18,11.01],[11.2,11.02],[9.97,10.94],[10.28,10.96],[11.6,10.97],[11.82,10.94],[9.55,10.93],[4.7,10.88],[8.65,10.89],[8.7,10.89],[12.75,10.93],[9.97,10.88],[10.2,10.86],[7.45,10.87],[12.65,10.85],[9.82,10.81],[10.68,10.82],[11.3,10.81],[11.62,10.81],[13.3,10.82],[13.68,10.79],[13.35,10.79],[13.98,10.78],[6.58,10.78],[8.07,10.77],[12.52,10.78],[9.27,10.75],[10.32,10.74],[10.42,10.73],[11.15,10.75],[12,10.74],[13.3,10.73],[8.72,10.73],[9.52,10.71],[9.65,10.69],[10.12,10.69],[10.95,10.7],[11.28,10.7],[12.55,10.7],[12.75,10.67],[6.87,10.68],[9.3,10.65],[9.55,10.64],[9.82,10.65],[11.93,10.68],[13.85,10.67],[14.45,10.66],[7.42,10.63],[6.22,10.62],[6.15,10.6],[12.28,10.62],[12.52,10.63],[12.55,10.6],[4.35,10.6],[6.87,10.6],[7.2,10.58],[10.27,10.59],[11.57,10.6],[13.75,10.58],[14.5,10.59],[15.05,10.6],[6.95,10.55],[7.02,10.57],[11.62,10.56],[12.72,10.57],[12.85,10.57],[15.08,10.56],[6.6,10.55],[6.92,10.53],[8.95,10.52],[9.32,10.51],[9.9,10.52],[10,10.5],[10.1,10.49],[11,10.54],[11.1,10.53],[12.03,10.51],[12.15,10.52],[12.5,10.55],[13.55,10.52],[13.72,10.55],[5.33,10.48],[5.68,10.48],[8.45,10.47],[9.7,10.48],[9.82,10.46],[11.2,10.47],[11.05,10.48],[12,10.49],[12.3,10.47],[12.82,10.47],[13.35,10.44],[6,10.45],[6.3,10.44],[7.47,10.45],[8.03,10.45],[8.83,10.44],[10.45,10.44],[10.65,10.44],[11.15,10.45],[12.1,10.44],[12.42,10.46],[13.55,10.44],[13.65,10.44],[14.5,10.45],[7.45,10.41],[7.78,10.42],[8.1,10.42],[8.3,10.41],[8.92,10.39],[9.65,10.41],[9.82,10.41],[10.7,10.42],[11.75,10.41],[12.1,10.4],[12.55,10.41],[13,10.4],[13.25,10.39],[14.82,10.41],[15.15,10.41],[15.28,10.41],[5.45,10.37],[6.45,10.36],[6.95,10.38],[7.2,10.37],[7.85,10.38],[8.9,10.37],[9.5,10.38],[9.7,10.38],[11.15,10.38],[11.35,10.38],[11.75,10.37],[11.85,10.35],[13.3,10.37],[6.15,10.34],[5.95,10.31],[7.3,10.34],[8.62,10.33],[9.15,10.33],[9.35,10.34],[11.5,10.33],[12,10.35],[12.3,10.34],[13.4,10.34],[6.05,10.32],[6.42,10.3],[8.37,10.32],[8.65,10.3],[9.05,10.33],[10.2,10.3],[10.28,10.31],[10.5,10.3],[11.15,10.29],[12.45,10.29],[13.3,10.31],[13.4,10.3],[6.8,10.27],[7.05,10.27],[7.3,10.25],[7.65,10.27],[8.7,10.27],[9.05,10.23],[9.47,10.23],[9.75,10.24],[10.55,10.25],[10.72,10.27],[11.15,10.27],[12.65,10.27],[13.65,10.28],[13.7,10.26],[5.5,10.24],[5.05,10.25],[7.85,10.25],[8.35,10.22],[8.6,10.22],[9.65,10.24],[10.6,10.22],[10.9,10.22],[12.5,10.22],[12.72,10.22],[13.2,10.26],[14.15,10.25],[5.95,10.21],[6.1,10.22],[7.18,10.21],[7.9,10.21],[8.5,10.21],[10.55,10.19],[11.15,10.18],[11.98,10.19],[12.35,10.2],[12.4,10.18],[6.8,10.19],[6.93,10.17],[7.93,10.19],[8,10.16],[10.7,10.17],[14.25,10.16],[4.68,10.16],[6.42,10.18],[6.4,10.14],[7.2,10.11],[9.2,10.12],[9.6,10.12],[9.85,10.13],[10.68,10.12],[11.1,10.13],[11.3,10.14],[11.55,10.11],[13,10.12],[13.1,10.11],[14.85,10.13],[15.05,10.11],[15.22,10.14],[6.65,10.09],[7.17,10.09],[8.62,10.09],[8.8,10.09],[9.28,10.1],[9.45,10.12],[11.78,10.1],[13.02,10.08],[13.95,10.1],[14.03,10.07],[6.17,10.05],[6.55,10.05],[7.15,10.07],[8.08,10.07],[8.3,10.06],[8.6,10.05],[9.6,10.05],[9.45,10.05],[10.45,10.03],[11.15,10.04],[11.3,10.03],[12.15,10.03],[13.1,10.07],[13.25,10.05],[13.75,10.03],[9.3,10.01],[9.95,10.01],[10.7,10],[11.75,9.99],[11.97,10.02],[12.3,10],[12.55,9.97],[11.35,9.96],[6.25,9.96],[5.08,9.95],[6.32,9.92],[8.45,9.94],[10.05,9.96],[10.72,9.94],[13.3,9.92],[13.55,9.91],[13.75,9.94],[9.38,9.92],[10.7,9.85],[7.9,9.82],[6.8,9.79],[7.2,9.78],[8.13,9.76],[8.38,9.8],[14.55,9.82],[7.5,9.72],[7.83,9.72],[9.55,9.69],[10.65,9.58],[11.93,9.5]];

var atp7aTop = [6,14,40,82,120,142,147,146,160,179,185,179,159,142,127,102,67,43,31,20,12];
var atp7aRight = [5,8,15,27,52,88,132,178,193,190,166,160,156,125,90,52,28,15,10,8,7];
var dbtTop = [19,45,71,97,125,147,167,184,182,167,139,97,65,44,31,22,12,5,1,2,3];
var dbtRight = [4,9,13,16,22,50,82,112,137,172,187,169,132,102,67,52,32,15,4,2,2];
var dlatTop = [6,11,15,17,28,42,59,94,149,179,176,174,188,184,151,109,76,54,40,31,23];
var dlatRight = [4,4,5,10,25,45,55,70,100,150,178,182,191,180,150,115,90,50,25,15,9];
var fdx1Top = [5,8,18,32,44,57,67,102,145,167,182,186,160,107,62,32,17,9,4,3,4];
var fdx1Right = [2,3,3,10,30,45,63,110,150,175,188,188,170,140,105,60,45,30,15,5,2];
var liasTop = [4,8,28,68,108,133,145,145,158,176,185,176,153,140,125,98,68,40,26,16,8];
var liasRight = [1,2,2,4,9,21,46,86,136,181,194,171,151,126,101,76,46,16,5,1,1];
var slc31a1Top = [6,12,14,18,28,43,61,96,151,177,176,173,184,179,143,103,76,56,41,31,23];
var slc31a1Right = [1,1,2,5,9,14,21,34,57,87,109,127,169,190,144,79,44,22,7,2,1];
var pdha1Top = [6,10,14,19,30,44,60,97,152,181,176,175,187,179,147,105,75,57,41,31,22];
var pdha1Right = [1,1,2,2,3,3,4,8,20,32,42,64,102,137,182,182,122,52,20,7,3];
var pdhbTop = [16,27,45,75,110,133,141,142,153,177,186,182,176,173,174,172,150,110,70,47,28];
var pdhbRight = [0,0,0,0,0,0,1,5,17,32,42,60,87,132,182,177,117,52,15,5,2];

// panel settings: gene, R, p, axis limits, ticks, regression fit and band
var panels = [
  {gene:'ATP7A', r:'0.3', p:'3.4e\u221208', pts:atp7aPts, top:atp7aTop, right:atp7aRight,
   xlim:[6.709,13.373], ylim:[6.319,9.616], xt:[8,10,12], yt:[7,8,9], fmt:'d',
   xe:[7.01,13.08], ye:[6.46,9.47], fitX:[7.01,8.52,10,11.57,13.08], fit:[7.65,7.84,8.03,8.22,8.41],
   up:[7.79,7.94,8.1,8.33,8.56], lo:[7.5,7.71,7.96,8.12,8.26],
   box:[90.3,446.6,88.7,426.3], topPeak:24, rightPeak:515.9, titleX:67.6, riskDx:1},
  {gene:'DBT', r:'\u22120.15', p:'0.0061', pts:dbtPts, top:dbtTop, right:dbtRight,
   xlim:[8.63,11.016], ylim:[7.94,10.684], xt:[9,9.5,10,10.5,11], yt:[8,8.5,9,9.5,10,10.5], fmt:'.1f',
   xe:[8.74,10.91], ye:[8.06,10.56], fitX:[8.74,9.04,9.4,9.92,10.91], fit:[9.41,9.364,9.31,9.23,9.08],
   up:[9.52,9.44,9.36,9.29,9.26], lo:[9.3,9.29,9.26,9.16,8.91],
   box:[590,933.7,88.7,426.3], topPeak:24, rightPeak:1000, titleX:552, riskDx:-13},
  {gene:'DLAT', r:'0.2', p:'0.00031', pts:dlatPts, top:dlatTop, right:dlatRight,
   xlim:[-1.733,0.389], ylim:[7.772,11.094], xt:[-1.5,-1,-0.5,0], yt:[8,9,10,11], fmt:'.1f', yfmt:'d',
   xe:[-1.64,0.293], ye:[7.92,10.94], fitX:[-1.64,-1.1,-0.6,-0.1,0.293], fit:[8.86,9.03,9.18,9.34,9.46],
   up:[9.04,9.13,9.24,9.43,9.6], lo:[8.68,8.92,9.11,9.25,9.31],
   box:[1084.4,1438,90.7,431.3], topPeak:25.3, rightPeak:1506.5, titleX:1053.7, riskDx:0},
  {gene:'FDX1', r:'\u22120.19', p:'0.00074', pts:fdx1Pts, top:fdx1Top, right:fdx1Right,
   xlim:[6.302,12.21], ylim:[9.218,11.91], xt:[8,10,12], yt:[10,11], fmt:'d',
   xe:[6.56,11.95], ye:[9.34,11.79], fitX:[6.56,7.8,9,10.4,11.95], fit:[10.758,10.63,10.5,10.35,10.19],
   up:[10.89,10.71,10.55,10.43,10.33], lo:[10.62,10.56,10.44,10.26,10.04],
   box:[96.7,447.3,547,884.3], topPeak:482, rightPeak:515.5, titleX:67.6, riskDx:-9.8},
  {gene:'LIAS', r:'0.15', p:'0.0058', pts:liasPts, top:liasTop, right:liasRight,
   xlim:[6.71,13.383], ylim:[7.106,9.745], xt:[8,10,12], yt:[8,9], fmt:'d',
   xe:[7.01,13.09], ye:[7.22,9.63], fitX:[7.01,8.5,10,11.6,13.09], fit:[8.2,8.26,8.32,8.38,8.43],
   up:[8.3,8.32,8.36,8.44,8.53], lo:[8.1,8.21,8.27,8.32,8.33],
   box:[585.3,942.3,546.3,885], topPeak:481, rightPeak:1011, titleX:561.7, riskDx:2.3},
  {gene:'SLC31A1', r:'0.15', p:'0.0053', pts:slc31a1Pts, top:slc31a1Top, right:slc31a1Right,
   xlim:[-1.735,0.388], ylim:[7.312,10.935], xt:[-1.5,-1,-0.5,0], yt:[8,9,10], fmt:'.1f', yfmt:'d',
   xe:[-1.64,0.292], ye:[7.47,10.77], fitX:[-1.64,-1.1,-0.6,-0.1,0.292], fit:[8.54,8.67,8.79,8.91,9.01],
   up:[8.69,8.76,8.85,8.99,9.13], lo:[8.37,8.57,8.73,8.83,8.87],
   box:[1087.8,1438.7,547.3,884.3], topPeak:482, rightPeak:1506.5, titleX:1058, riskDx:0},
  {gene:'PDHA1', r:'0.13', p:'0.02', pts:pdha1Pts, top:pdha1Top, right:pdha1Right,
   xlim:[-1.733,0.389], ylim:[9.363,12.602], xt:[-1.5,-1,-0.5,0], yt:[10,11,12], fmt:'.1f', yfmt:'d',
   xe:[-1.64,0.293], ye:[9.5,12.46], fitX:[-1.64,-1.1,-0.6,-0.1,0.293], fit:[10.295,10.36,10.42,10.48,10.532],
   up:[10.43,10.44,10.47,10.55,10.64], lo:[10.165,10.28,10.37,10.41,10.42],
   box:[97.7,452,1015.7,1356.3], topPeak:949.7, rightPeak:520.6, titleX:67.6, riskDx:0},
  {gene:'PDHB', r:'0.12', p:'0.032', pts:pdhbPts, top:pdhbTop, right:pdhbRight,
   xlim:[3.817,15.908], ylim:[9.361,12.604], xt:[4,8,12], yt:[10,11,12], fmt:'d',
   xe:[4.36,15.37], ye:[9.5,12.46], fitX:[4.36,7,9.9,12.6,15.37], fit:[10.307,10.36,10.42,10.477,10.534],
   up:[10.415,10.42,10.47,10.53,10.63], lo:[10.2,10.3,10.37,10.42,10.435],
   box:[592,943.7,1014.7,1353], topPeak:949.7, rightPeak:1011, titleX:561.7, riskDx:9.3}
];

// panel B
var bRows = ['SLC31A1','PDHB','PDHA1','LIPT1','LIAS','FDX1','DLST','DLD','DLAT','DBT','ATP7B','ATP7A'];
var bCols = ['CXCL13','HSPA2','HSPA9','MICB'];
var bValues = [
  [-0.03,-0.2,-0.005,-0.02],
  [-0.11,0.22,0.11,-0.07],
  [0.12,-0.27,0.1,0.1],
  [0.09,0.09,-0.13,-0.18],
  [-0.05,0.29,0.14,-0.13],
  [0.24,-0.21,-0.12,-0.04],
  [0.07,0.002,-0.12,-0.17],
  [0.17,-0.15,0.05,-0.09],
  [0.12,-0.23,0.15,-0.06],
  [0.05,0.17,0.06,-0.12],
  [-0.19,0.346,0.12,-0.06],
  [-0.08,0.17,-0.003,-0.015]
];
var bStars = [
  ['','***','',''],
  ['*','***','*',''],
  ['*','***','',''],
  ['','','**','***'],
  ['','***','*','*'],
  ['***','***','*',''],
  ['','','*','***'],
  ['**','**','',''],
  ['*','***','**',''],
  ['','**','','*'],
  ['***','***','*',''],
  ['','**','','']
];
var bLegendTicks = [0.3,0.2,0.1,0,-0.1,-0.2];
var bSig = [['***','p<0.001'],['**','p<0.01'],['*','p<0.05']];
var bColorStops = [-0.28,0,0.1,0.2,0.29,0.346];
var bColors = ['#7a78b5','#ffffff','#f8cabf','#f59b8c','#ee5649','#e8262d'];

// panel C
var cGenes = ['SLC31A1','FDX1','DLAT','DLD','PDHA1','ATP7A','ATP7B','LIAS','PDHB','DBT','LIPT1','DLST'];
var cValues = [
  [1,0.29,0.3,0.09,0.1,-0.04,-0.17,-0.16,-0.06,-0.03,-0.06,0.09],
  [0.29,1,0.52,0.24,0.12,-0.13,-0.19,-0.12,0.05,0.01,0.12,0.11],
  [0.3,0.52,1,0.31,0.28,-0.32,-0.18,0.02,0.12,0.18,-0.06,0.16],
  [0.09,0.24,0.31,1,0.23,-0.13,-0.12,0.06,0.04,0.19,0,0.13],
  [0.1,0.12,0.28,0.23,1,-0.25,-0.25,-0.18,-0.19,0.06,-0.18,0.04],
  [-0.04,-0.13,-0.32,-0.13,-0.25,1,0.17,0.09,0.04,0.03,-0.02,-0.06],
  [-0.17,-0.19,-0.18,-0.12,-0.25,0.17,1,0.24,0.22,-0.01,0,-0.07],
  [-0.16,-0.12,0.02,0.06,-0.18,0.09,0.24,1,0.33,0.27,0.19,-0.03],
  [-0.06,0.05,0.12,0.04,-0.19,0.04,0.22,0.33,1,0.14,0.15,0.11],
  [-0.03,0.01,0.18,0.19,0.06,0.03,-0.01,0.27,0.14,1,0.14,-0.01],
  [-0.06,0.12,-0.06,0,-0.18,-0.02,0,0.19,0.15,0.14,1,0.17],
  [0.09,0.11,0.16,0.13,0.04,-0.06,-0.07,-0.03,0.11,-0.01,0.17,1]
];
var cBarTicks = [1,0.8,0.6,0.4,0.2,0,-0.2,-0.4,-0.6,-0.8,-1];
var cRampStops = [-1,-0.8,-0.6,-0.4,-0.2,0,0.2,0.4,0.6,0.8,1];
var cRampColors = ['#174a9e','#33489b','#5e62ac','#9a9ccb','#cccce5','#ffffff','#f9cdd0','#f48e94','#ef5a62','#eb3038','#ea1c24'];

var svg = d3.select('#chart').append('svg')
    .attr('width', 1549)
    .attr('height', 2154)
    .style('display', 'block');

// panel letters
[['A',0,23.3],['B',2,1469.6],['C',798.7,1469.6]].forEach(function (l) {
  svg.append('text').attr('x', l[1]).attr('y', l[2])
      .attr('font-size', 25.6).attr('font-weight', 'bold').attr('fill', '#000').text(l[0]);
});

function minorTicks(t, lim) {
  var out = [], step = t[1] - t[0];
  d3.range(-1, t.length).forEach(function (i) {
    var m = t[0] + (i + 0.5) * step;
    if (m > lim[0] && m < lim[1]) out.push(m);
  });
  return out;
}

panels.forEach(drawPanel);

function drawPanel(d) {
  var b = d.box;
  var x = d3.scaleLinear().domain(d.xlim).range([b[0], b[1]]);
  var y = d3.scaleLinear().domain(d.ylim).range([b[3], b[2]]);
  var g = svg.append('g');

  // marginal density on top
  var topBase = b[2] - 3;
  var topIdx = d3.scaleLinear().domain([0, d.top.length - 1]).range(d.xe);
  var topY = d3.scaleLinear().domain([0, d3.max(d.top)]).range([topBase, d.topPeak]);
  g.append('path').datum(d.top)
      .attr('fill', '#ecd3e4')
      .attr('d', d3.area().x(function (v, i) { return x(topIdx(i)); }).y0(topBase).y1(function (v) { return topY(v); }).curve(d3.curveCatmullRom));
  g.append('path').datum(d.top)
      .attr('fill', 'none').attr('stroke', '#1a1a1a').attr('stroke-width', 1.1)
      .attr('d', d3.line().x(function (v, i) { return x(topIdx(i)); }).y(function (v) { return topY(v); }).curve(d3.curveCatmullRom));

  // marginal density on the right, index 0 is the top of the curve
  var rightBase = b[1] + 3.7;
  var rightIdx = d3.scaleLinear().domain([0, d.right.length - 1]).range([d.ye[1], d.ye[0]]);
  var rightX = d3.scaleLinear().domain([0, d3.max(d.right)]).range([rightBase, d.rightPeak]);
  g.append('path').datum(d.right)
      .attr('fill', '#b2def5')
      .attr('d', d3.area().y(function (v, i) { return y(rightIdx(i)); }).x0(rightBase).x1(function (v) { return rightX(v); }).curve(d3.curveCatmullRom));
  g.append('path').datum(d.right)
      .attr('fill', 'none').attr('stroke', '#1a1a1a').attr('stroke-width', 1.1)
      .attr('d', d3.line().y(function (v, i) { return y(rightIdx(i)); }).x(function (v) { return rightX(v); }).curve(d3.curveCatmullRom));

  // grid
  minorTicks(d.xt, d.xlim).forEach(function (v) {
    g.append('line').attr('x1', x(v)).attr('x2', x(v)).attr('y1', b[2]).attr('y2', b[3]).attr('stroke', '#f0f0f0').attr('stroke-width', 0.6);
  });
  minorTicks(d.yt, d.ylim).forEach(function (v) {
    g.append('line').attr('y1', y(v)).attr('y2', y(v)).attr('x1', b[0]).attr('x2', b[1]).attr('stroke', '#f0f0f0').attr('stroke-width', 0.6);
  });
  d.xt.forEach(function (v) {
    g.append('line').attr('x1', x(v)).attr('x2', x(v)).attr('y1', b[2]).attr('y2', b[3]).attr('stroke', '#ebebeb').attr('stroke-width', 1);
  });
  d.yt.forEach(function (v) {
    g.append('line').attr('y1', y(v)).attr('y2', y(v)).attr('x1', b[0]).attr('x2', b[1]).attr('stroke', '#ebebeb').attr('stroke-width', 1);
  });

  // points
  g.selectAll('circle.pt').data(d.pts).enter().append('circle')
      .attr('class', 'pt')
      .attr('cx', function (p) { return x(p[0]); })
      .attr('cy', function (p) { return y(p[1]); })
      .attr('r', 3)
      .attr('fill', '#0d0d0d');

  // confidence band and fit
  var band = d3.area()
      .x(function (v, i) { return x(d.fitX[i]); })
      .y0(function (v, i) { return y(d.lo[i]); })
      .y1(function (v) { return y(v); })
      .curve(d3.curveMonotoneX);
  g.append('path').datum(d.up).attr('fill', '#999').attr('fill-opacity', 0.4).attr('d', band);
  g.append('path').datum(d.fit)
      .attr('fill', 'none').attr('stroke', '#3366b8').attr('stroke-width', 2.4)
      .attr('d', d3.line().x(function (v, i) { return x(d.fitX[i]); }).y(function (v) { return y(v); }));

  // annotation
  var note = g.append('text').attr('x', x(d.xe[0])).attr('y', b[2] + 25.3)
      .attr('dominant-baseline', 'central').attr('font-size', 13.4).attr('fill', '#111');
  note.append('tspan').attr('font-style', 'italic').text('R');
  note.append('tspan').text(' = ' + d.r + ', ');
  note.append('tspan').attr('font-style', 'italic').text('p');
  note.append('tspan').text(' = ' + d.p);

  // frame
  g.append('rect').attr('x', b[0]).attr('y', b[2]).attr('width', b[1] - b[0]).attr('height', b[3] - b[2])
      .attr('fill', 'none').attr('stroke', '#7f7f7f').attr('stroke-width', 1.2);

  // axes
  var xAxis = d3.axisBottom(x).tickValues(d.xt).tickFormat(d3.format(d.fmt)).tickSize(3.5).tickPadding(4);
  var yAxis = d3.axisLeft(y).tickValues(d.yt).tickFormat(d3.format(d.yfmt || d.fmt)).tickSize(3.5).tickPadding(2.5);
  [g.append('g').attr('transform', 'translate(0,' + b[3] + ')').call(xAxis),
   g.append('g').attr('transform', 'translate(' + b[0] + ',0)').call(yAxis)].forEach(function (a) {
    a.select('.domain').remove();
    a.selectAll('line').attr('stroke', '#7f7f7f');
    a.selectAll('text').attr('fill', '#7f7f7f').attr('font-size', 10.8).attr('font-family', '"Liberation Sans", Arial, sans-serif');
  });

  g.append('text').attr('x', (b[0] + b[1]) / 2 + d.riskDx).attr('y', b[3] + 25.7)
      .attr('text-anchor', 'middle').attr('dominant-baseline', 'central')
      .attr('font-size', 13.4).attr('fill', '#1a1a1a').text('Risk score');
  g.append('text').attr('transform', 'translate(' + d.titleX + ',' + (b[2] + b[3]) / 2 + ') rotate(-90)')
      .attr('text-anchor', 'middle').attr('dominant-baseline', 'central')
      .attr('font-size', 13.4).attr('fill', '#1a1a1a').text(d.gene);
}

// panel B heatmap
(function () {
  var x = d3.scaleBand().domain(bCols).range([86.5, 609.5]);
  var y = d3.scaleBand().domain(bRows).range([1527.2, 2095.8]);
  var color = d3.scaleLinear().domain(bColorStops).range(bColors);
  var g = svg.append('g');

  bRows.forEach(function (r) {
    g.append('line').attr('x1', 74).attr('x2', 622).attr('y1', y(r) + y.bandwidth() / 2).attr('y2', y(r) + y.bandwidth() / 2)
        .attr('stroke', '#ebebeb').attr('stroke-width', 0.8);
  });
  bCols.forEach(function (c) {
    g.append('line').attr('y1', 1522).attr('y2', 2101).attr('x1', x(c) + x.bandwidth() / 2).attr('x2', x(c) + x.bandwidth() / 2)
        .attr('stroke', '#ebebeb').attr('stroke-width', 0.8);
  });

  bRows.forEach(function (r, i) {
    bCols.forEach(function (c, j) {
      g.append('rect').attr('x', x(c)).attr('y', y(r)).attr('width', x.bandwidth()).attr('height', y.bandwidth())
          .attr('fill', color(bValues[i][j])).attr('stroke', '#bebebe').attr('stroke-width', 2.9);
      if (bStars[i][j]) {
        g.append('text').attr('x', x(c) + x.bandwidth() / 2).attr('y', y(r) + y.bandwidth() / 2 + 4.7)
            .attr('text-anchor', 'middle').attr('font-size', 12.8).attr('fill', '#000').text(bStars[i][j]);
      }
    });
    g.append('text').attr('x', 65.7).attr('y', y(r) + y.bandwidth() / 2)
        .attr('text-anchor', 'end').attr('dominant-baseline', 'central')
        .attr('font-size', 15).attr('font-weight', 'bold').attr('fill', '#4d4d4d').text(r);
  });
  bCols.forEach(function (c) {
    g.append('text').attr('transform', 'translate(' + (x(c) + x.bandwidth() / 2 + 7.6) + ',2113) rotate(-45)')
        .attr('text-anchor', 'end')
        .attr('font-size', 14.4).attr('font-weight', 'bold').attr('fill', '#4d4d4d').text(c);
  });

  // star key
  var starX = [648, 648, 653], sigX = [676.6, 670, 668];
  bSig.forEach(function (s, i) {
    var ky = 1706.4 + i * 18.2;
    g.append('text').attr('x', starX[i]).attr('y', ky + 4.5).attr('font-size', 16).attr('fill', '#222').text(s[0]);
    g.append('text').attr('x', sigX[i]).attr('y', ky)
        .attr('dominant-baseline', 'central').attr('font-size', 16).attr('fill', '#222').text(s[1]);
  });

  // colour bar
  var barY = d3.scaleLinear().domain([0.346, -0.28]).range([1794.3, 1925]);
  var defs = svg.append('defs');
  var grad = defs.append('linearGradient').attr('id', 'corrBar').attr('x1', 0).attr('x2', 0).attr('y1', 0).attr('y2', 1);
  d3.range(0, 21).forEach(function (i) {
    var v = 0.346 - i * (0.346 + 0.28) / 20;
    grad.append('stop').attr('offset', (i * 5) + '%').attr('stop-color', color(v));
  });
  g.append('text').attr('x', 648).attr('y', 1778.3).attr('dominant-baseline', 'central')
      .attr('font-size', 16.4).attr('fill', '#222').text('Correlation');
  g.append('rect').attr('x', 648).attr('y', 1794.3).attr('width', 26).attr('height', 130.7).attr('fill', 'url(#corrBar)');
  bLegendTicks.forEach(function (v) {
    [[648, 653.2], [668.8, 674]].forEach(function (e) {
      g.append('line').attr('x1', e[0]).attr('x2', e[1]).attr('y1', barY(v)).attr('y2', barY(v)).attr('stroke', '#fff').attr('stroke-width', 0.6);
    });
    g.append('text').attr('x', 682).attr('y', barY(v)).attr('dominant-baseline', 'central')
        .attr('font-size', 14).attr('fill', '#222').text(d3.format('.1f')(v));
  });
})();

// panel C heatmap
(function () {
  var x = d3.scaleBand().domain(cGenes).range([881, 1482.2]);
  var y = d3.scaleBand().domain(cGenes).range([1527.4, 2128]);
  var ramp = d3.scaleLinear().domain(cRampStops).range(cRampColors);
  var color = d3.scaleQuantize().domain([-1, 1]).range(d3.quantize(ramp.copy().domain(cRampStops.map(function (s) { return (s + 1) / 2; })), 60));
  var g = svg.append('g');

  cGenes.forEach(function (r, i) {
    cGenes.forEach(function (c, j) {
      g.append('rect').attr('x', x(c)).attr('y', y(r)).attr('width', x.bandwidth() + 0.3).attr('height', y.bandwidth() + 0.3)
          .attr('fill', color(cValues[i][j]));
      g.append('text').attr('x', x(c) + x.bandwidth() / 2).attr('y', y(r) + y.bandwidth() / 2)
          .attr('text-anchor', 'middle').attr('dominant-baseline', 'central')
          .attr('font-size', 9).attr('font-weight', 'bold').attr('fill', '#111')
          .text(String(cValues[i][j]).replace('-', '\u2212'));
    });
    g.append('text').attr('x', 876).attr('y', y(r) + y.bandwidth() / 2)
        .attr('text-anchor', 'end').attr('dominant-baseline', 'central')
        .attr('font-size', 10.3).attr('fill', '#333').text(r);
    g.append('text').attr('transform', 'translate(' + (x(r) + x.bandwidth() / 2) + ',1523) rotate(-90)')
        .attr('dominant-baseline', 'central')
        .attr('font-size', 10.3).attr('fill', '#333').text(r);
  });

  // stepped colour bar
  var steps = color.range();
  var barY = d3.scaleLinear().domain([1, -1]).range([1527.4, 2128]);
  steps.forEach(function (col, i) {
    var hi = 1 - i * 2 / steps.length;
    var lo = 1 - (i + 1) * 2 / steps.length;
    g.append('rect').attr('x', 1492.3).attr('width', 22.7).attr('y', barY(hi)).attr('height', barY(lo) - barY(hi) + 0.3)
        .attr('fill', color((hi + lo) / 2));
  });
  cBarTicks.forEach(function (v) {
    g.append('line').attr('x1', 1515).attr('x2', 1519.5).attr('y1', barY(v)).attr('y2', barY(v)).attr('stroke', '#555').attr('stroke-width', 0.7);
    g.append('text').attr('x', 1541.2).attr('y', barY(v)).attr('text-anchor', 'middle').attr('dominant-baseline', 'central')
        .attr('font-size', 9).attr('fill', '#333').text(String(v).replace('-', '\u2212'));
  });
})();
</script>
</body>
</html>
